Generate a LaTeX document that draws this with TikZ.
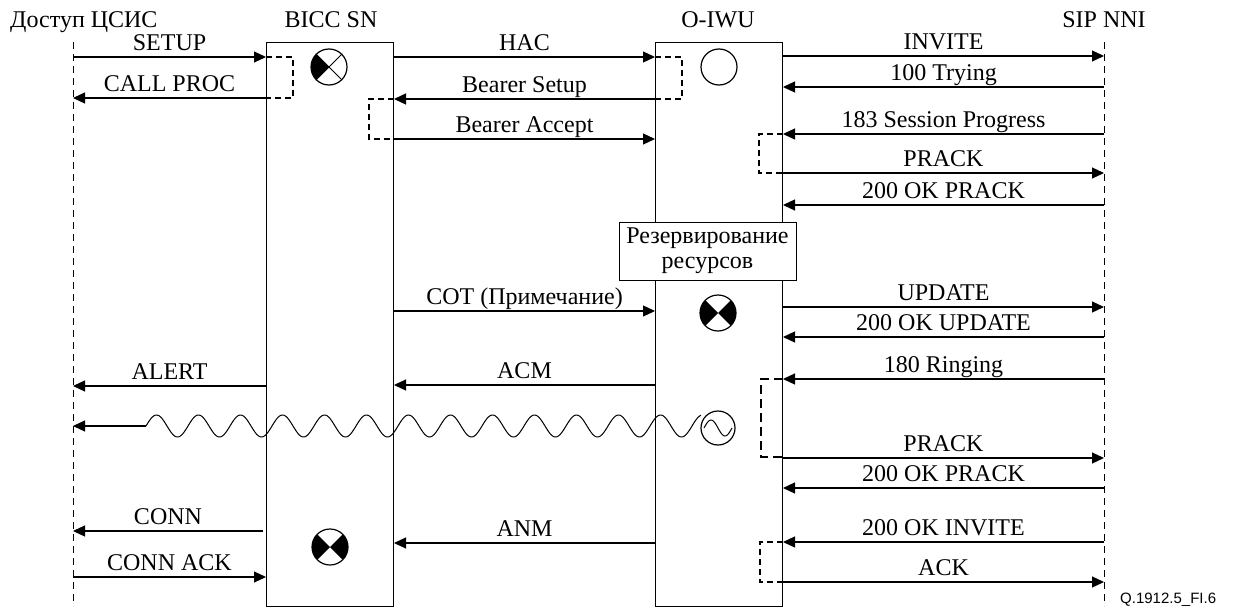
\documentclass[tikz,border=0pt]{standalone}
\usepackage{fontspec}
\setmainfont{Liberation Serif}
\newfontfamily\figfont{Liberation Sans}
\usetikzlibrary{arrows.meta}
\begin{document}
\begin{tikzpicture}[x=1pt,y=-1pt,
  msg/.style={line width=1.2pt,-{Triangle[length=12pt,width=11pt]}},
  lbl/.style={font=\fontsize{24}{25}\selectfont, midway, anchor=base, yshift=6.5pt, inner sep=0pt},
  hdr/.style={font=\fontsize{24}{25}\selectfont, anchor=base, inner sep=0pt},
  life/.style={line width=1pt, dash pattern=on 7pt off 5pt},
  unitbox/.style={draw, line width=1pt, anchor=north west, minimum width=127pt, minimum height=564pt, inner sep=0pt},
  brk/.style={line width=1.2pt, dash pattern=on 6pt off 4pt},
  brkb/.style={line width=1.6pt, dash pattern=on 9pt off 5pt},
  sym/.style={circle, draw, line width=1.2pt, minimum size=36pt, inner sep=0pt},
]
\useasboundingbox (0,0) rectangle (1234,610);

% headers
\node[hdr, anchor=base west] (hacc) at (10,28) {Доступ ЦСИС};
\node[hdr] (hbicc) at (331,28) {BICC SN};
\node[hdr] (hoiwu) at (718,28) {O-IWU};
\node[hdr] (hsip) at (1104,28) {SIP NNI};

% lifelines
\coordinate (acc) at (73,42);
\coordinate (accb) at (73,606);
\coordinate (sip) at (1104,42);
\coordinate (sipb) at (1104,606);
\draw[life] (acc) -- (accb);
\draw[life] (sip) -- (sipb);
\node[unitbox] (bicc) at (266,42) {};
\node[unitbox] (oiwu) at (655,42) {};

% brackets
\draw[brk] (bicc.west |- 0,57) -- (293,57) -- (293,98) -- (bicc.west |- 0,98);
\draw[brk] (oiwu.west |- 0,57) -- (682,57) -- (682,99) -- (oiwu.west |- 0,99);
\draw[brk] (bicc.east |- 0,99) -- (369,99) -- (369,139) -- (bicc.east |- 0,139);
\draw[brk] (oiwu.east |- 0,134) -- (759,134) -- (759,173) -- (oiwu.east |- 0,173);
\draw[brkb] (oiwu.east |- 0,379) -- (761,379) -- (761,457) -- (oiwu.east |- 0,457);
\draw[brk] (oiwu.east |- 0,542) -- (760,542) -- (760,582) -- (oiwu.east |- 0,582);

% left messages
\draw[msg] (acc |- 0,57) -- (bicc.west |- 0,57) node[lbl] {SETUP};
\draw[msg] (bicc.west |- 0,98) -- (acc |- 0,98) node[lbl] {CALL PROC};
\draw[msg] (bicc.west |- 0,386) -- (acc |- 0,386) node[lbl] {ALERT};
\draw[msg] ([xshift=-3pt]bicc.west |- 0,531) -- (acc |- 0,531) node[lbl] {CONN};
\draw[msg] (acc |- 0,577) -- (bicc.west |- 0,577) node[lbl] {CONN ACK};

% middle messages
\draw[msg] (bicc.east |- 0,57) -- (oiwu.west |- 0,57) node[lbl] {HAC};
\draw[msg] (oiwu.west |- 0,99) -- (bicc.east |- 0,99) node[lbl] {Bearer Setup};
\draw[msg] (bicc.east |- 0,139) -- (oiwu.west |- 0,139) node[lbl] {Bearer Accept};
\draw[msg] (bicc.east |- 0,311) -- (oiwu.west |- 0,311) node[lbl] {COT (Примечание)};
\draw[msg] (oiwu.west |- 0,385) -- (bicc.east |- 0,385) node[lbl] {ACM};
\draw[msg] (oiwu.west |- 0,543) -- (bicc.east |- 0,543) node[lbl] {ANM};

% right messages
\draw[msg] (oiwu.east |- 0,56) -- (sip |- 0,56) node[lbl] {INVITE};
\draw[msg] (sip |- 0,87) -- (oiwu.east |- 0,87) node[lbl] {100 Trying};
\draw[msg] (sip |- 0,134) -- (oiwu.east |- 0,134) node[lbl] {183 Session Progress};
\draw[msg] (oiwu.east |- 0,173) -- (sip |- 0,173) node[lbl] {PRACK};
\draw[msg] (sip |- 0,205) -- (oiwu.east |- 0,205) node[lbl] {200 OK PRACK};
\draw[msg] (oiwu.east |- 0,307) -- (sip |- 0,307) node[lbl] {UPDATE};
\draw[msg] (sip |- 0,337) -- (oiwu.east |- 0,337) node[lbl] {200 OK UPDATE};
\draw[msg] (sip |- 0,379) -- (oiwu.east |- 0,379) node[lbl] {180 Ringing};
\draw[msg] (oiwu.east |- 0,458) -- (sip |- 0,458) node[lbl] {PRACK};
\draw[msg] (sip |- 0,488) -- (oiwu.east |- 0,488) node[lbl] {200 OK PRACK};
\draw[msg] (sip |- 0,542) -- (oiwu.east |- 0,542) node[lbl] {200 OK INVITE};
\draw[msg] (oiwu.east |- 0,582) -- (sip |- 0,582) node[lbl] {ACK};

% resource reservation box
\node[draw, fill=white, line width=1pt, minimum width=177pt, minimum height=58pt, align=center, inner sep=0pt, font=\fontsize{24}{25}\selectfont] (res) at (707.5,251) {Резервирование\\ресурсов};

% symbols
\node[sym] (s1) at (329,67) {};
\begin{scope}[shift={(s1.center)}, x=1pt, y=1pt]
  \fill (0,0) -- (135:18) arc[start angle=135, end angle=225, radius=18] -- cycle;
\end{scope}
\draw[line width=1pt] (s1.45) -- (s1.225) (s1.135) -- (s1.315);

\node[sym] (s2) at (719,67) {};

\node[sym] (s3) at (718,313) {};
\begin{scope}[shift={(s3.center)}, x=1pt, y=1pt]
  \fill (0,0) -- (135:18) arc[start angle=135, end angle=225, radius=18] -- cycle;
  \fill (0,0) -- (-45:18) arc[start angle=-45, end angle=45, radius=18] -- cycle;
\end{scope}

\node[sym] (s4) at (330,547) {};
\begin{scope}[shift={(s4.center)}, x=1pt, y=1pt]
  \fill (0,0) -- (135:18) arc[start angle=135, end angle=225, radius=18] -- cycle;
  \fill (0,0) -- (-45:18) arc[start angle=-45, end angle=45, radius=18] -- cycle;
\end{scope}

% wave
\node[circle, draw, line width=1.2pt, minimum size=34pt, inner sep=0pt] (wc) at (718,428) {};
\coordinate (ws) at (146,426);
\draw[line width=1pt] plot[domain=146:701, samples=500, smooth] (\x, {426 - 11*sin(((\x-146)/42)*360)});
\draw[msg] (ws) -- (acc |- ws);
\begin{scope}[shift={(wc.center)}, x=1pt, y=1pt]
  \draw[line width=1pt] plot[domain=-14:14, samples=60, smooth] (\x, {8*sin(((\x+14)/28)*360)});
\end{scope}

% figure label
\node[font=\figfont\fontsize{15}{17}\selectfont, anchor=base west, inner sep=0pt] (fig) at (1120,603) {Q.1912.5\_FI.6};
\end{tikzpicture}
\end{document}
